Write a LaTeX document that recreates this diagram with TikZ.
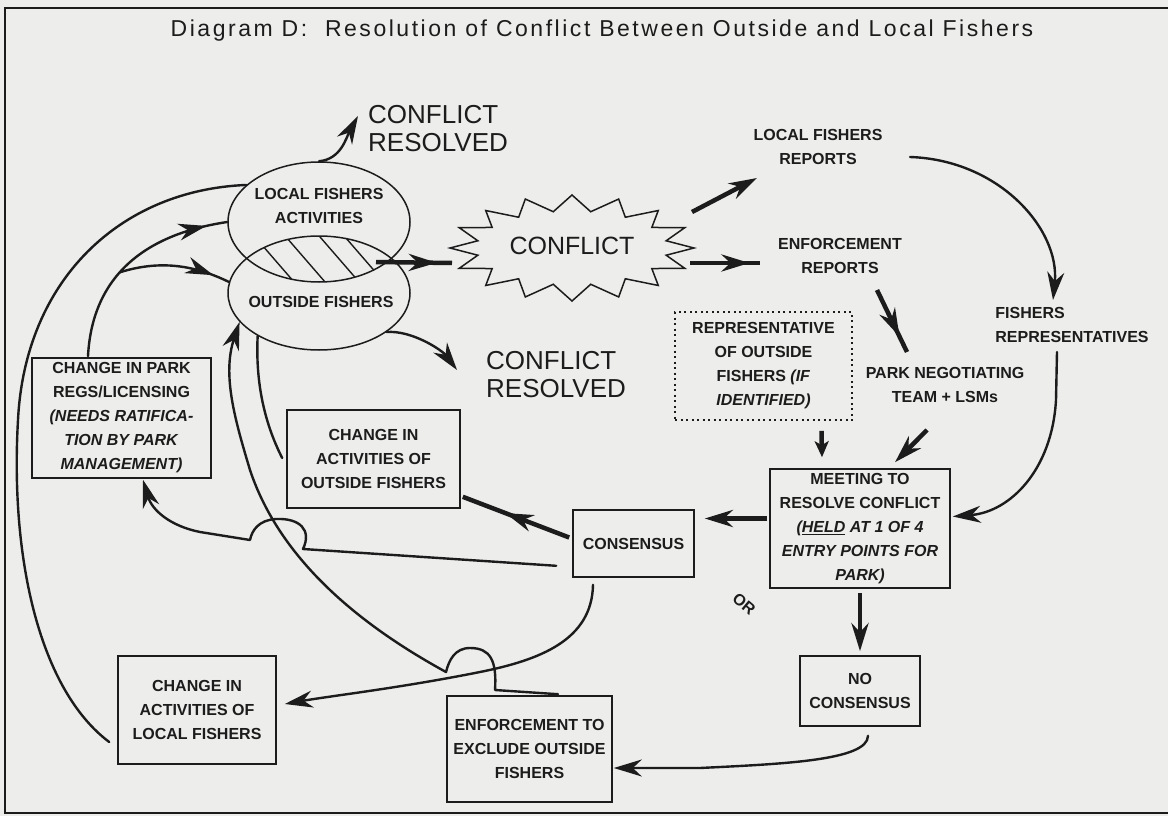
\documentclass[tikz,border=0pt]{standalone}
\usepackage{fontspec}
\setmainfont{Liberation Sans}
\newfontfamily\titlefont[LetterSpace=11]{Liberation Sans}
\usetikzlibrary{arrows.meta,calc,decorations.markings,shapes.geometric}
\definecolor{paper}{RGB}{237,237,235}
\definecolor{ink}{RGB}{28,28,28}

\tikzset{
  lbl/.style={font=\fontsize{16}{24}\selectfont\bfseries, text=ink, align=center, inner sep=0pt},
  big/.style={font=\fontsize{26}{28}\selectfont, text=ink, align=left, inner sep=0pt},
  boxn/.style={lbl, draw=ink, line width=1.6pt},
  oval/.style={ellipse, draw=ink, line width=1.5pt, inner sep=0pt},
  conn/.style={draw=ink, line width=2.4pt, line cap=round, line join=round},
  heavy/.style={draw=ink, line width=4.5pt},
  head/.style={-{Stealth[length=28pt,width=17pt,inset=9pt]}},
  midhead/.style={decoration={markings, mark=at position #1 with {\arrow{Stealth[length=28pt,width=17pt,inset=9pt]}}}, postaction={decorate}},
}

\begin{document}
\begin{tikzpicture}[x=1pt, y=-1pt]
\useasboundingbox (0,0) rectangle (1168,816);
\fill[paper] (0,0) rectangle (1168,816);

% frame and title
\draw[ink, line width=2pt] (1168,8) -- (5,8) -- (5,813) -- (1168,813);
\node[font=\titlefont\fontsize{23}{23}\selectfont, text=ink, inner sep=0pt] (title) at (602,31)
  {Diagram D:\ \ Resolution of Conflict Between Outside and Local Fishers};

% the two fisher groups and their overlap
\node[oval, minimum width=182, minimum height=120] (local) at (319,222) {};
\node[oval, minimum width=182, minimum height=114] (outside) at (319,293) {};
\begin{scope}
  \clip (319,222) ellipse [x radius=91pt, y radius=60pt];
  \clip (319,293) ellipse [x radius=91pt, y radius=57pt];
  \draw[ink, line width=1.4pt] (249,230) -- (301,290) (280,230) -- (332,290)
        (314,230) -- (366,290) (339,230) -- (391,290);
\end{scope}
\node[lbl] (localtxt) at (319,206) {LOCAL FISHERS\\ACTIVITIES};
\node[lbl] (outsidetxt) at (321,302) {OUTSIDE FISHERS};
\coordinate (lens) at (376,262);

% outcomes
\node[big, anchor=west] (res1) at (368,129) {CONFLICT\\RESOLVED};
\node[big, anchor=west] (res2) at (486,375) {CONFLICT\\RESOLVED};

% conflict burst
\node[font=\fontsize{25}{25}\selectfont, text=ink, inner sep=0pt] (conflict) at (572,246) {CONFLICT};
\draw[ink, line width=1.5pt, line join=miter] (694,248)
  \foreach \i in {1,...,31}{ -- ({572+(109+13*cos(\i*180))*cos(\i*11.25)}, {248-(45+8*cos(\i*180))*sin(\i*11.25)}) } -- cycle;

% reports and negotiating parties
\node[lbl] (lrep) at (818,147) {LOCAL FISHERS\\REPORTS};
\node[lbl] (erep) at (840,256) {ENFORCEMENT\\REPORTS};
\node[lbl, align=left] (freps) at (1072,325) {FISHERS\\REPRESENTATIVES};
\node[lbl, draw=ink, line width=1.8pt, dash pattern=on 2pt off 3.5pt, minimum width=177, minimum height=108]
  (rep) at (763.5,366) {REPRESENTATIVE\\OF OUTSIDE\\FISHERS \textit{(IF}\\\textit{IDENTIFIED)}};
\node[lbl] (park) at (945,385) {PARK NEGOTIATING\\TEAM + LSMs};

% meeting and its results
\node[boxn, minimum width=180, minimum height=119] (meet) at (860,528.5)
  {MEETING TO\\RESOLVE CONFLICT\\\textit{(\underline{HELD} AT 1 OF 4}\\\textit{ENTRY POINTS FOR}\\\textit{PARK)}};
\node[boxn, minimum width=121, minimum height=67] (cons) at (633.5,543.5) {CONSENSUS};
\node[boxn, minimum width=120, minimum height=70] (nocons) at (860,691) {NO\\CONSENSUS};
\node[lbl, rotate=-40] (or) at (744,604) {OR};
\node[boxn, minimum width=173, minimum height=98] (chout) at (373.5,459) {CHANGE IN\\ACTIVITIES OF\\OUTSIDE FISHERS};
\node[boxn, minimum width=179, minimum height=120] (regs) at (121.5,418)
  {CHANGE IN PARK\\REGS/LICENSING\\\textit{(NEEDS RATIFICA-}\\\textit{TION BY PARK}\\\textit{MANAGEMENT)}};
\node[boxn, minimum width=158, minimum height=108] (lchg) at (197,710) {CHANGE IN\\ACTIVITIES OF\\LOCAL FISHERS};
\node[boxn, minimum width=165, minimum height=106] (enf) at (529.5,749) {ENFORCEMENT TO\\EXCLUDE OUTSIDE\\FISHERS};

% connectors: into and out of the conflict
\draw[conn, head] (local.north) .. controls +(22,-2) and +(-12,22) .. ($(res1.west)+(-10,-13)$);
\draw[heavy, midhead=0.8] (lens) -- ($(conflict.center)+(-120,17)$);
\draw[heavy, head] ($(conflict.center)+(120,-34)$) -- ($(lrep.center)+(-61,31)$);
\draw[heavy, midhead=0.85] ($(conflict.center)+(118,17)$) -- ($(erep.center)+(-80,7)$);
\draw[conn, head] ($(lrep.center)+(92,10)$) .. controls +(90,3) and +(7,-70) .. ($(freps.center)+(-19,-25)$);
\draw[heavy, midhead=0.75] ($(erep.center)+(37,34)$) -- ($(park.center)+(-38,-33)$);
\draw[heavy, -{Stealth[length=16pt,width=14pt,inset=4pt]}] ($(rep.south)+(58,10)$) -- ($(meet.north)+(-38,-11)$);
\draw[heavy, head] ($(park.center)+(-18,45)$) -- ($(meet.north)+(35,-6)$);
\draw[conn, head] ($(freps.center)+(-15,27)$) -- (1056,400) .. controls (1052,470) and (1010,512) .. ($(meet.east)+(2,-12)$);

% connectors: meeting outcomes
\draw[heavy, head] ($(meet.west)+(-2,-10)$) -- ($(cons.east)+(10,-25)$);
\draw[heavy, head] ($(meet.south)+(0,4)$) -- ($(nocons.north)+(0,-4)$);
\draw[heavy, midhead=0.6] ($(cons.west)+(-3,-6)$) -- ($(chout.south east)+(2,-12)$);
\draw[conn, head] ($(nocons.south)+(8,9)$) .. controls +(0,25) and +(80,-4) .. (700,768) -- ($(enf.east)+(1,19)$);

% connectors: feedback to the fisher groups
\draw[conn, head] ($(cons.south west)+(-16,-12)$) -- (303,549)
  .. controls (312,530) and (300,518) .. (276,519)
  .. controls (259,520) and (252,530) .. (250,540) -- (200,532)
  .. controls (170,526) and (152,510) .. ($(regs.south)+(21.5,1)$);
\draw[conn, head] ($(enf.north)+(28.5,-1)$) -- (495,690)
  .. controls (497,660) and (490,648) .. (470,648)
  .. controls (455,648) and (449,660) .. (446,672)
  .. controls (360,625) and (280,560) .. (250,470)
  .. controls (235,420) and (222,375) .. (outside.200);
\draw[conn, head] ($(cons.south)+(-40.5,7)$) .. controls (592,640) and (540,660) .. (480,672)
  .. controls (400,688) and (330,696) .. ($(lchg.east)+(8,-6)$);
\draw[conn] ($(chout.west)+(-4,-1)$) .. controls (268,430) and (255,390) .. (outside.215);
\draw[conn, midhead=0.9] ($(regs.north)+(-33.5,-1)$) .. controls (92,280) and (140,235) .. coordinate[pos=0.45] (split) (local.west);
\draw[conn, midhead=0.85] (split) .. controls (165,258) and (200,268) .. (outside.173);
\draw[conn] ($(lchg.west)+(-8,32)$) .. controls (40,690) and (10,560) .. (18,420)
  .. controls (25,280) and (120,190) .. (local.153);
\draw[conn, head] (outside.330) .. controls +(25,-2) and +(-15,-20) .. ($(res2.west)+(-29,-5)$);
\end{tikzpicture}
\end{document}
